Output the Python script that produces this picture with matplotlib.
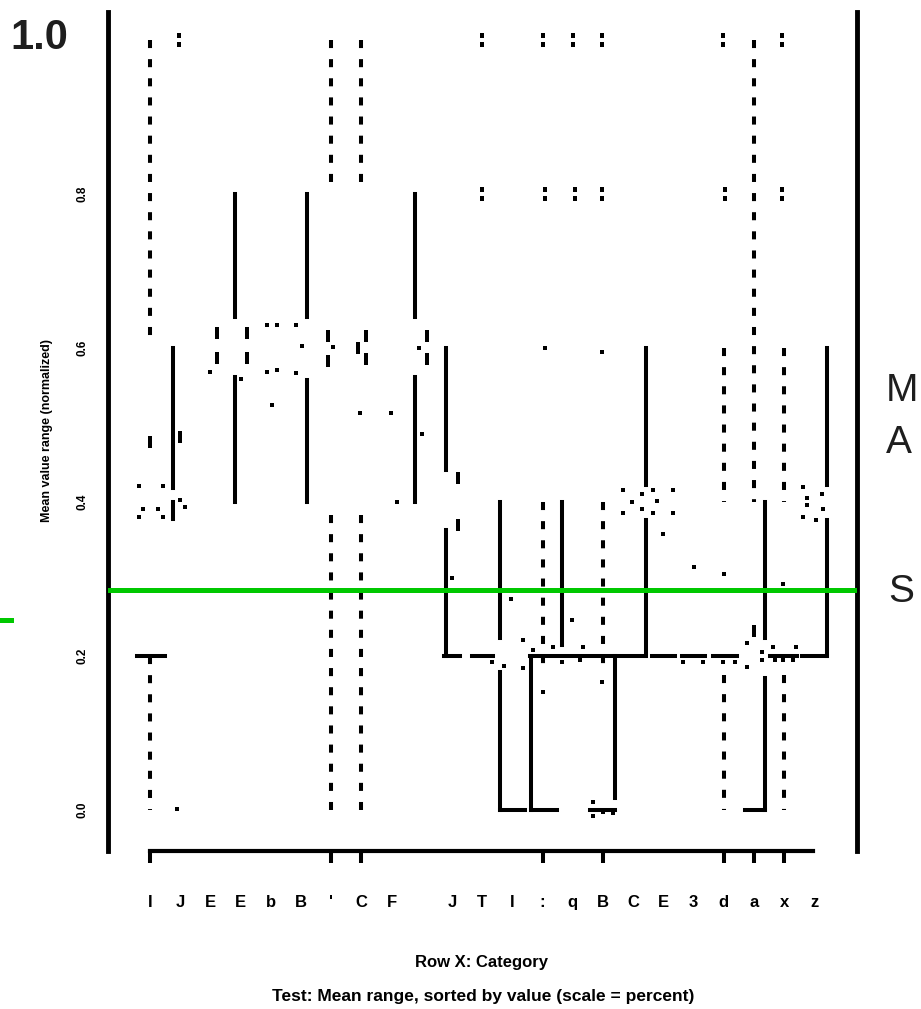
import matplotlib
matplotlib.use("Agg")
import matplotlib.pyplot as plt
from matplotlib.path import Path
from matplotlib.lines import Line2D

plt.rcParams['font.family'] = ['Liberation Sans', 'DejaVu Sans']

# ---------------- data ----------------
categories = ['I', 'J', 'E', 'E', 'b', 'B', "'", 'C', 'F', '', 'J', 'T', 'I', ':',
              'q', 'B', 'C', 'E', '3', 'd', 'a', 'x', 'z']
y_ticks = [0.0, 0.2, 0.4, 0.6, 0.8, 1.0]
y_tick_labels = ['0.0', '0.2', '0.4', '0.6', '0.8', '']
threshold = 0.286
marked_cats = [0, 6, 7, 13, 15, 19, 20, 21]

# solid vertical segments (x, top, bottom)
solid_x = [0.76, 0.76, 2.81, 2.81, 5.2, 5.2, 8.77, 8.77, 9.8, 9.8, 11.59, 11.59,
           12.62, 13.64, 15.4, 16.42, 16.42, 20.36, 20.36, 22.42, 22.42]
solid_top = [0.6, 0.40, 0.8, 0.563, 0.8, 0.558, 0.8, 0.563, 0.6, 0.364, 0.4, 0.179,
             0.2, 0.4, 0.2, 0.6, 0.377, 0.4, 0.172, 0.6, 0.377]
solid_bot = [0.418, 0.378, 0.64, 0.4, 0.64, 0.4, 0.64, 0.4, 0.442, 0.2, 0.224, 0.0,
             0.0, 0.214, 0.016, 0.422, 0.2, 0.224, 0.0, 0.422, 0.2]

# dotted vertical segments (x, top, bottom)
dotted_x = [0, 0, 6, 6, 7, 7, 13, 15, 19, 19, 20, 21, 21]
dotted_top = [1.0, 0.2, 1.0, 0.383, 1.0, 0.383, 0.4, 0.4, 0.6, 0.175, 1.0, 0.6, 0.175]
dotted_bot = [0.612, 0.0, 0.805, 0.0, 0.805, 0.0, 0.18, 0.19, 0.4, 0.0, 0.4, 0.4, 0.0]

# horizontal segments (y, x start, x end)
hseg_y = [0.2, 0.2, 0.2, 0.2, 0.2, 0.2, 0.2, 0.2, 0.2, 0.0, 0.0, 0.0, 0.0]
hseg_x0 = [-0.43, 9.74, 10.66, 12.58, 16.62, 17.62, 18.64, 20.53, 21.59, 11.59, 12.62, 14.57, 19.70]
hseg_x1 = [0.50, 10.26, 11.36, 16.39, 17.38, 18.38, 19.44, 21.42, 22.42, 12.42, 13.48, 15.40, 20.36]

# outliers at top rows
out_x = [0.96, 10.99, 13.01, 14.0, 14.97, 18.97, 20.93, 10.99, 13.08, 14.07, 14.97, 19.04, 20.93]
out_y = [1.0, 1.0, 1.0, 1.0, 1.0, 1.0, 1.0, 0.8, 0.8, 0.8, 0.8, 0.8, 0.8]

# tall point marks
tall_x = [2.22, 2.22, 3.21, 3.21, 5.89, 5.89, 7.15, 7.15, 9.17, 9.17, 0.0, 20.0, 6.89,
          10.2, 10.2, 0.99]
tall_y = [0.619, 0.587, 0.619, 0.587, 0.616, 0.583, 0.616, 0.586, 0.616, 0.586, 0.478,
          0.233, 0.6, 0.431, 0.37, 0.484]

# small point marks
pts_x = [1.99, 3.87, 4.21, 4.83, 3.87, 4.21, 4.83, 5.03, 6.06, 8.91, 13.08, 14.97,
         4.04, -0.36, 0.43, -0.23, 0.26, -0.36, 0.43, 0.99, 1.16, 6.95, 7.98, 9.01, 8.18,
         10.0, 11.95, 13.97, 12.35, 12.68, 13.34, 14.34, 11.32, 11.72, 12.35, 12.62, 13.64,
         14.24, 15.66, 15.96, 16.29, 16.66, 16.79, 17.32, 15.66, 16.29, 16.66, 17.32, 16.99,
         18.01, 19.01, 20.96, 21.62, 22.25, 21.75, 21.75, 22.28, 21.62, 22.05, 19.77, 20.26,
         20.63, 21.39, 17.65, 18.31, 18.97, 19.37, 19.77, 20.26, 20.70, 20.96, 21.29, 13.01,
         14.97, 14.67, 14.67, 15.0, 15.33, 0.89, 3.0]
pts_y = [0.569, 0.63, 0.63, 0.63, 0.569, 0.571, 0.568, 0.603, 0.601, 0.6, 0.6, 0.595,
         0.526, 0.421, 0.421, 0.391, 0.391, 0.381, 0.381, 0.403, 0.394, 0.516, 0.516, 0.488, 0.40,
         0.301, 0.274, 0.247, 0.221, 0.208, 0.212, 0.212, 0.192, 0.187, 0.184, 0.186, 0.192,
         0.195, 0.416, 0.40, 0.41, 0.416, 0.401, 0.416, 0.386, 0.391, 0.386, 0.386, 0.358,
         0.316, 0.306, 0.294, 0.419, 0.41, 0.405, 0.396, 0.391, 0.381, 0.377, 0.217, 0.205,
         0.212, 0.212, 0.192, 0.192, 0.192, 0.192, 0.186, 0.195, 0.195, 0.195, 0.195, 0.153,
         0.166, 0.010, -0.008, -0.003, -0.004, 0.001, 0.56]

# ---------------- figure ----------------
W, H = 921, 1009
fig = plt.figure(figsize=(W / 100, H / 100), dpi=100)
fig.patch.set_facecolor('white')
ax = fig.add_axes([108 / W, 1 - 851 / H, (857 - 108) / W, (851 - 12) / H])
ax.set_xlim(-1.391, 23.41)
ax.set_ylim(-0.0532, 1.0364)

LW = 2.9
ax.vlines(solid_x, solid_top, solid_bot, colors='black', linewidth=LW,
          capstyle='projecting', zorder=3)
ax.vlines(dotted_x, dotted_top, dotted_bot, colors='black', linewidth=LW,
          linestyles=[(0, (2.0, 2.75))], zorder=3)
ax.hlines(hseg_y, hseg_x0, hseg_x1, colors='black', linewidth=LW,
          capstyle='projecting', zorder=3)

colon = Path([(-1, 1), (1, 1), (1, 3), (-1, 3), (-1, 1),
              (-1, -3), (1, -3), (1, -1), (-1, -1), (-1, -3)],
             [Path.MOVETO, Path.LINETO, Path.LINETO, Path.LINETO, Path.CLOSEPOLY,
              Path.MOVETO, Path.LINETO, Path.LINETO, Path.LINETO, Path.CLOSEPOLY])
tall = Path([(-1, -3), (1, -3), (1, 3), (-1, 3), (-1, -3)],
            [Path.MOVETO, Path.LINETO, Path.LINETO, Path.LINETO, Path.CLOSEPOLY])

ax.plot(out_x, out_y, linestyle='none', marker=colon, markersize=9.5,
        color='black', markeredgewidth=0, zorder=4)
ax.plot(tall_x, tall_y, linestyle='none', marker=tall, markersize=8.5,
        color='black', markeredgewidth=0, zorder=4)
ax.plot(pts_x, pts_y, linestyle='none', marker='s', markersize=3.3,
        color='black', markeredgewidth=0, zorder=4)

ax.axhline(threshold, color='#00c800', linewidth=3.6, zorder=6)

# spines
ax.spines['top'].set_visible(False)
for s in ('left', 'right'):
    ax.spines[s].set_linewidth(3.5)
ax.spines['bottom'].set_linewidth(3.0)
ax.spines['bottom'].set_bounds(0, 21.95)

# ticks
ax.set_xticks(range(len(categories)))
ax.set_xticklabels(categories, fontsize=12, fontweight='bold')
ax.set_xticks(marked_cats, minor=True)
ax.xaxis.remove_overlapping_locs = False
ax.tick_params(axis='x', which='major', length=0, pad=31.5)
ax.tick_params(axis='x', which='minor', length=8.6, width=2.9, direction='out')
ax.set_yticks(y_ticks)
ax.set_yticklabels(y_tick_labels, rotation=90, fontsize=8.5, fontweight='bold', va='center')
ax.tick_params(axis='y', length=0, pad=14)

ax.annotate('1.0', xy=(0, 1.0), xycoords=('axes fraction', 'data'),
            xytext=(-40, 2), textcoords='offset pixels', ha='right', va='center',
            fontsize=30, fontweight='bold', color='#1e1e1e')

# axis titles
fig.text(47 / W, 1 - 430 / H, 'Mean value range (normalized)', rotation=90,
         ha='center', va='center', fontsize=9, fontweight='bold')
fig.text(481 / W, 1 - 962 / H, 'Row X: Category', ha='center', va='center',
         fontsize=12, fontweight='bold')
fig.text(483 / W, 1 - 997 / H, 'Test: Mean range, sorted by value (scale = percent)',
         ha='center', va='center', fontsize=12.5, fontweight='bold')

# right-side labels (only their first letters fit inside the figure)
fig.text(886 / W, 1 - 391 / H, 'M', ha='left', va='center', fontsize=28,
         color='#1e1e1e')
fig.text(886 / W, 1 - 443 / H, 'A', ha='left', va='center', fontsize=28,
         color='#1e1e1e')
fig.text(888 / W, 1 - 592 / H, 'S', ha='left', va='center', fontsize=28,
         color='#1e1e1e')

fig.add_artist(Line2D([0, 11 / W], [1 - 620 / H, 1 - 620 / H], transform=fig.transFigure,
                      color='#00c800', linewidth=3.6))

fig.savefig('out.png', dpi=100, facecolor='white')
